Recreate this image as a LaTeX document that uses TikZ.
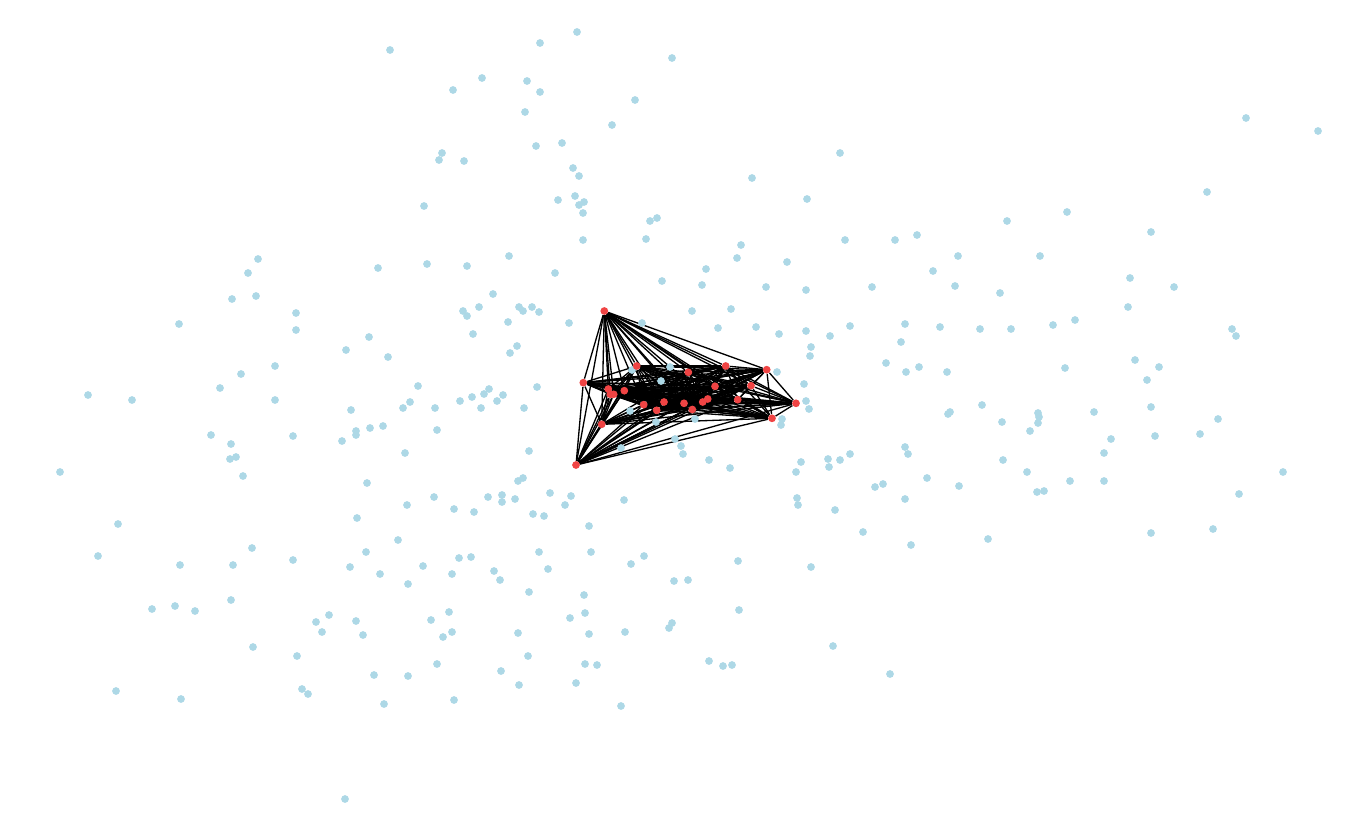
\documentclass[tikz,border=0pt]{standalone}
\usepackage{tikz}
\usetikzlibrary{backgrounds}
\definecolor{dotblue}{RGB}{173,216,230}
\definecolor{dotred}{RGB}{240,68,68}
\tikzset{
  plain/.style={circle,fill=dotblue,inner sep=0pt,minimum size=0.155cm},
  hub/.style={circle,fill=dotred,inner sep=0pt,minimum size=0.155cm},
  link/.style={line width=0.75pt,black}
}

\begin{document}
\begin{tikzpicture}[x=0.02cm,y=-0.02cm]
\useasboundingbox (0,0) rectangle (1358,821);
% scattered nodes
\foreach \px/\py [count=\n] in {390/50,453/90,442/153,439/160,424/206,258/259,248/273,378/268,427/264,
  577/32,540/43,672/58,482/78,527/81,540/92,525/112,635/100,612/125,536/146,562/143,464/161,573/168,
  579/176,558/200,575/196,579/205,584/202,583/213,650/221,657/218,583/240,646/239,752/178,840/153,
  807/199,845/240,895/240,741/245,737/258,787/262,706/269,509/256,467/266,555/273,
  1246/118,1318/131,1207/192,1067/212,1007/221,1151/232,917/235,958/256,1040/256,933/271,
  232/299,256/296,179/324,296/313,296/330,369/337,346/350,388/357,275/366,241/374,220/388,88/395,
  132/400,275/400,418/386,410/402,403/408,435/408,351/410,437/430,383/426,370/428,356/431,356/435,
  342/441,211/435,231/444,236/457,230/459,293/436,243/476,405/453,60/472,367/483,434/497,407/505,
  454/509,357/518,118/524,398/540,252/548,
  662/281,702/285,766/287,806/290,872/287,493/294,463/311,467/316,479/307,519/307,523/311,532/307,
  539/312,508/322,569/323,642/323,692/311,731/309,718/328,756/327,779/334,806/331,830/336,850/326,
  905/324,901/342,811/347,810/356,886/363,906/372,473/334,517/346,510/353,537/387,460/401,472/397,
  484/394,489/389,503/395,497/401,481/408,524/408,632/370,670/367,661/381,630/411,656/422,695/419,
  675/439,681/446,683/454,621/448,777/372,804/384,806/401,809/409,782/419,781/425,709/460,730/468,
  801/462,796/472,828/459,829/467,840/460,850/454,905/447,908/454,529/451,523/478,518/481,488/497,
  502/495,502/502,515/499,550/493,571/496,565/505,624/500,474/512,533/514,544/516,589/526,797/498,
  798/505,835/510,875/487,883/484,905/499,863/532,
  955/286,1000/293,1130/278,1174/287,1128/307,940/327,980/329,1011/329,1053/325,1075/320,1232/329,
  1236/336,919/367,947/372,1065/368,1135/360,1159/367,1147/380,982/405,948/414,950/412,1002/422,
  1038/413,1039/417,1038/423,1030/431,1094/412,1151/407,1218/419,1111/439,1104/453,1155/436,
  1200/434,1283/472,1003/460,1027/472,927/478,959/486,1037/492,1044/491,1070/481,1104/481,1239/494,
  1213/529,1151/533,988/539,911/545,
  98/556,180/565,233/565,293/560,350/567,366/552,380/574,408/584,423/566,452/574,152/609,175/606,
  195/611,231/600,253/647,297/656,316/622,329/615,322/632,356/621,363/635,431/620,449/612,452/632,
  443/637,437/664,374/675,408/676,116/691,181/699,302/689,308/694,384/704,454/700,345/799,
  459/558,471/557,539/552,591/552,644/556,631/564,738/561,811/567,494/571,500/580,548/569,674/581,
  688/580,529/592,584/595,739/610,585/613,570/618,672/623,669/628,518/633,589/634,625/632,833/646,
  528/656,585/664,597/665,709/661,723/666,732/665,501/671,519/685,576/683,890/674,621/706}
  \node[plain] (b\n) at (\px,\py) {};
% clique
\foreach \px/\py [count=\n] in {604.3/311,636.7/366,688.3/372.3,725.7/366,766.7/369.7,583.3/382.7,
  608.3/389,610.3/394.3,613.7/394.3,624.3/390.7,715/386.3,751/385.7,796/403.3,643.7/404.7,664/402,
  684/403.3,656.7/410.3,692.3/409.5,702.7/402,707.7/399,737.7/399.7,601.7/424.3,772/418.3,576/465}
  \node[hub] (r\n) at (\px,\py) {};
\begin{pgfonlayer}{background}
\foreach \i in {1,...,23}{
  \pgfmathtruncatemacro\k{\i+1}
  \foreach \j in {\k,...,24} \draw[link] (r\i) -- (r\j);
}
\end{pgfonlayer}
\end{tikzpicture}
\end{document}
